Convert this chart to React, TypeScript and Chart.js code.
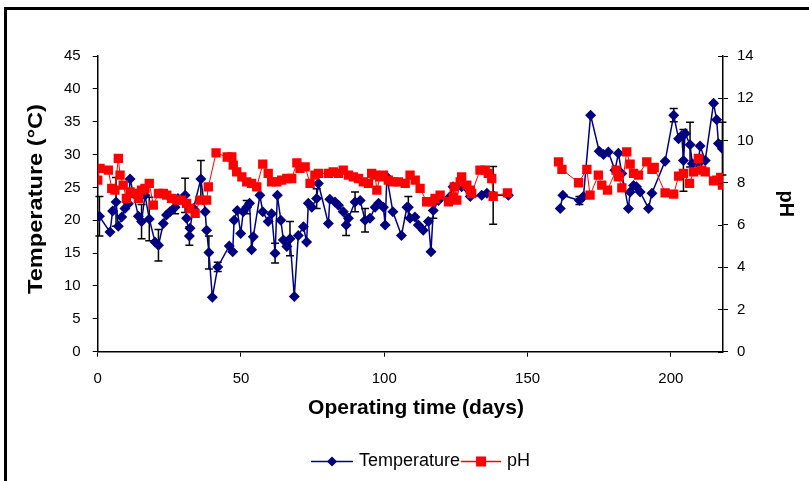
import React, { useEffect, useRef } from "react";
import { Chart, registerables } from "chart.js";

Chart.register(...registerables);

// ---- Data ----
const tempDays = [
  0.6, 4.3, 5.2, 6.4, 7.2, 8.4, 9.5, 10.7, 11.3, 12.4, 14.2, 15.3, 16.5, 18.0, 20.0, 21.2, 22.9, 24.0, 25.2, 27.0,
  28.0, 30.5, 31.0, 32.0, 32.2, 33.4, 36.0, 37.5, 38.0, 38.8, 40.0, 41.9, 45.9, 47.1, 47.6, 48.7, 49.9, 50.8, 52.0, 53.0,
  53.7, 54.3, 56.6, 57.6, 59.5, 60.7, 61.9, 62.7, 63.9, 64.8, 66.0, 67.1, 68.6, 70.0, 71.8, 72.9, 73.5, 74.7, 76.4, 77.0,
  80.5, 81.0, 82.8, 84.0, 85.7, 86.7, 87.5, 89.8, 91.6, 93.3, 95.0, 96.8, 98.0, 99.7, 100.3, 100.9, 103.0, 106.0, 107.9, 108.4,
  109.0, 110.7, 111.9, 113.6, 115.4, 116.3, 117.1, 118.9, 123.0, 124.0, 127.0, 130.0, 134.0, 135.8, 138.0, 143.3,
  161.4, 162.3, 168.1, 169.5, 172.0, 175.0, 176.5, 178.2, 180.5, 181.7, 182.9, 185.2, 185.8, 187.0, 188.0, 189.3, 192.2, 193.4,
  198.0, 201.0, 202.7, 203.8, 204.4, 205.0, 206.7, 207.5, 209.6, 210.2, 212.0, 214.9, 216.0, 216.6, 218.0,
];
const tempValues = [
  20.6, 18.2, 21.4, 22.8, 19.1, 20.5, 21.8, 22.5, 26.3, 24.1, 20.6, 19.8, 23.8, 20.2, 16.7, 16.2, 19.5, 20.8, 21.3, 22.0,
  23.3, 23.8, 20.3, 17.6, 18.8, 21.8, 26.3, 21.3, 18.5, 15.1, 8.3, 12.9, 16.1, 15.2, 20.0, 21.5, 18.0, 21.3, 22.0, 22.6,
  15.5, 17.5, 23.8, 21.3, 19.8, 21.0, 15.0, 23.8, 20.0, 17.0, 16.0, 17.2, 8.4, 17.7, 19.0, 16.7, 22.6, 22.0, 23.3, 25.6,
  19.5, 23.2, 22.8, 22.3, 21.3, 19.3, 20.3, 22.8, 23.0, 20.0, 20.3, 22.0, 22.6, 22.0, 19.3, 26.6, 21.3, 17.7, 22.0, 22.0,
  20.3, 20.5, 19.3, 18.5, 19.8, 15.2, 21.5, 23.0, 23.6, 25.1, 25.1, 23.6, 23.8, 24.1, 23.8, 23.8,
  21.8, 23.8, 23.0, 23.6, 36.0, 30.5, 30.0, 30.4, 27.6, 30.2, 27.1, 21.8, 24.3, 25.3, 25.1, 24.3, 21.8, 24.1,
  29.0, 36.0, 32.4, 32.9, 29.1, 33.2, 31.5, 28.6, 28.6, 31.3, 29.1, 37.8, 35.3, 31.7, 30.9,
];
const tempErrors = [
  3.0, 0, 0, 3.7, 0, 0, 0, 0, 0, 0, 0, 2.6, 0, 3.3, 0, 2.4, 0, 0, 0, 1.0,
  0, 2.6, 0, 1.4, 0, 0, 2.8, 0, 0, 2.5, 0, 0.7, 0, 0, 0, 0, 0, 0, 1.0, 0,
  0, 0, 0, 0, 0, 0, 1.5, 0, 0, 0, 0, 2.6, 0, 0, 0, 0, 0, 0, 1.5, 0,
  0, 0, 0, 0, 0, 1.6, 0, 1.5, 0, 1.8, 0, 0, 0, 0, 0, 0, 0, 0, 0, 1.6,
  0, 0, 0, 0, 0, 0, 1.2, 0, 0, 0, 0, 0, 0, 0, 4.4, 0,
  0, 0, 0.6, 0, 0, 0, 0, 0, 0, 0, 0, 0, 0, 0, 0, 0, 0, 0,
  0, 1.0, 0, 0, 4.7, 0, 3.4, 0, 0, 0, 0, 0, 0, 0, 4.0,
];

const phDays = [
  0, 0.8, 3.7, 4.9, 6.0, 7.2, 7.8, 8.9, 10.0, 11.3, 13.0, 14.2, 15.3, 16.5, 18.0, 19.4, 21.2, 22.9, 24.1, 25.8,
  27.6, 29.3, 31.0, 32.2, 34.0, 35.7, 38.0, 38.6, 41.3, 45.2, 46.8, 47.3, 48.5, 50.3, 52.0, 53.7, 55.5, 57.6, 59.5, 60.7,
  62.5, 64.2, 66.0, 67.7, 69.5, 70.6, 72.4, 74.1, 75.8, 77.0, 80.5, 82.2, 84.0, 85.7, 87.5, 89.2, 91.0, 92.7, 94.5, 95.6,
  96.8, 97.4, 98.5, 99.7, 101.4, 103.2, 104.9, 107.3, 109.0, 110.8, 112.5, 114.8, 116.6, 117.7, 119.5, 122.4, 124.1, 124.4, 125.3, 126.5,
  127.0, 128.8, 130.0, 130.5, 133.4, 135.2, 136.3, 137.5, 138.0, 143.0,
  160.8, 162.0, 167.8, 170.7, 171.8, 174.7, 175.9, 177.9, 180.9, 181.7, 182.9, 184.6, 185.8, 187.0, 188.7, 191.6, 193.4, 194.2,
  198.0, 201.0, 202.7, 204.4, 206.5, 207.9, 209.6, 210.8, 212.0, 214.9, 216.0, 217.4, 218.0,
];
const phValues = [
  8.12, 8.68, 8.6, 7.73, 7.65, 9.15, 8.36, 7.89, 7.26, 7.57, 7.49, 7.26, 7.65, 7.73, 7.97, 6.94, 7.49, 7.49, 7.41, 7.26,
  7.18, 7.18, 7.02, 6.78, 6.55, 7.18, 7.18, 7.8, 9.41, 9.22, 9.22, 8.83, 8.51, 8.28, 8.04, 7.97, 7.8, 8.88, 8.44, 8.04,
  8.04, 8.12, 8.2, 8.2, 8.94, 8.68, 8.75, 7.97, 8.36, 8.44, 8.44, 8.51, 8.44, 8.6, 8.36, 8.28, 8.2, 8.04, 7.97, 8.44,
  8.36, 7.65, 8.28, 8.36, 8.12, 8.04, 8.04, 7.97, 8.36, 8.12, 7.73, 7.1, 7.1, 7.26, 7.41, 7.1, 7.33, 7.8, 7.18, 8.04,
  8.28, 7.89, 7.65, 7.49, 8.6, 8.6, 8.44, 8.2, 7.36, 7.52,
  8.99, 8.63, 8.0, 8.63, 7.41, 8.36, 7.89, 7.65, 8.6, 8.28, 7.76, 9.46, 8.88, 8.44, 8.36, 8.99, 8.63, 8.72,
  7.52, 7.46, 8.31, 8.44, 7.97, 8.51, 9.15, 8.6, 8.51, 8.09, 8.12, 8.25, 7.89,
];

const gapDay = 150; // no measurements between the two campaigns
const xTickValues = [0, 50, 100, 150, 200];
const xMax = 218.2;
const tempMax = 45;
const tempStep = 5;
const phMax = 14;
const phStep = 2;

const FONT = "'Liberation Sans', Arial, sans-serif";
const NAVY = "#000080";
const RED = "#FF0000";

function withGap(days: number[], vals: number[]) {
  const out: { x: number; y: number | null }[] = [];
  days.forEach((d, i) => {
    if (i > 0 && days[i - 1] < gapDay && d > gapDay) out.push({ x: gapDay, y: null });
    out.push({ x: d, y: vals[i] });
  });
  return out;
}

const frameAndExtras = {
  id: "frameAndExtras",
  beforeDatasetsDraw(chart: any) {
    const { ctx } = chart;
    const xs = chart.scales.x;
    const ys = chart.scales.y;
    ctx.save();
    ctx.strokeStyle = "#000";
    ctx.lineWidth = 1.5;
    tempDays.forEach((d, i) => {
      const e = tempErrors[i];
      if (!e) return;
      const px = xs.getPixelForValue(d);
      const top = ys.getPixelForValue(tempValues[i] + e);
      const bot = ys.getPixelForValue(tempValues[i] - e);
      ctx.beginPath();
      ctx.moveTo(px, top);
      ctx.lineTo(px, bot);
      ctx.moveTo(px - 4, top);
      ctx.lineTo(px + 4, top);
      ctx.moveTo(px - 4, bot);
      ctx.lineTo(px + 4, bot);
      ctx.stroke();
    });
    ctx.restore();
  },
  afterDraw(chart: any) {
    const { ctx, chartArea } = chart;
    ctx.save();
    // outer frame (partially visible)
    ctx.fillStyle = "#000";
    ctx.fillRect(4, 7, 3, 481);
    ctx.fillRect(4, 7, 809, 3);

    // inward ticks on the right axis
    const y2 = chart.scales.y2;
    ctx.strokeStyle = "#000";
    ctx.lineWidth = 1;
    y2.ticks.forEach((t: any) => {
      const py = Math.round(y2.getPixelForValue(t.value)) + 0.5;
      ctx.beginPath();
      ctx.moveTo(chartArea.right - 5, py);
      ctx.lineTo(chartArea.right, py);
      ctx.stroke();
    });

    // x-axis title
    ctx.fillStyle = "#000";
    ctx.font = `bold 21px ${FONT}`;
    ctx.textAlign = "center";
    ctx.textBaseline = "middle";
    ctx.fillText("Operating time (days)", 416, 408);

    // y-axis title (left)
    ctx.save();
    ctx.translate(36, 199);
    ctx.rotate(-Math.PI / 2);
    ctx.scale(1.18, 1);
    ctx.font = `bold 20px ${FONT}`;
    ctx.fillText("Temperature (°C)", 0, 0);
    ctx.restore();

    // legend
    const ly = 461.5;
    ctx.lineWidth = 1.5;
    ctx.strokeStyle = NAVY;
    ctx.beginPath();
    ctx.moveTo(311, ly);
    ctx.lineTo(353, ly);
    ctx.stroke();
    ctx.fillStyle = NAVY;
    ctx.beginPath();
    ctx.moveTo(332, ly - 5);
    ctx.lineTo(337, ly);
    ctx.lineTo(332, ly + 5);
    ctx.lineTo(327, ly);
    ctx.closePath();
    ctx.fill();
    ctx.font = `18px ${FONT}`;
    ctx.textAlign = "left";
    ctx.fillStyle = "#000";
    ctx.fillText("Temperature", 359, ly);
    const tw = ctx.measureText("Temperature").width;
    const rx = 359 + tw + 1;
    ctx.strokeStyle = RED;
    ctx.beginPath();
    ctx.moveTo(rx, ly);
    ctx.lineTo(rx + 40, ly);
    ctx.stroke();
    ctx.fillStyle = RED;
    ctx.fillRect(rx + 20 - 5, ly - 5, 10, 10);
    ctx.fillStyle = "#000";
    ctx.fillText("pH", rx + 46, ly);
    ctx.restore();
  },
};

export default function App() {
  const ref = useRef<HTMLCanvasElement | null>(null);

  useEffect(() => {
    if (!ref.current) return;
    const tickFont = { family: FONT, size: 15 };
    const chart = new Chart(ref.current, {
      type: "line",
      data: {
        datasets: [
          {
            label: "pH",
            data: withGap(phDays, phValues),
            yAxisID: "y2",
            borderColor: RED,
            backgroundColor: RED,
            borderWidth: 1,
            pointStyle: "rect",
            pointRadius: 6.6,
            pointBorderWidth: 0,
            pointBackgroundColor: RED,
            spanGaps: false,
            tension: 0,
            order: 0,
          },
          {
            label: "Temperature",
            data: withGap(tempDays, tempValues),
            yAxisID: "y",
            borderColor: NAVY,
            backgroundColor: NAVY,
            borderWidth: 1.5,
            pointStyle: "rectRot",
            pointRadius: 5.5,
            pointBorderWidth: 0,
            pointBackgroundColor: NAVY,
            spanGaps: false,
            tension: 0,
            order: 1,
          },
        ],
      },
      options: {
        animation: false,
        responsive: false,
        maintainAspectRatio: false,
        events: [],
        layout: { padding: { top: 56, left: 0, right: 0, bottom: 0 } },
        plugins: { legend: { display: false }, tooltip: { enabled: false } },
        scales: {
          x: {
            type: "linear",
            position: "bottom",
            min: 0,
            max: xMax,
            afterBuildTicks: (s: any) => {
              s.ticks = xTickValues.map((v) => ({ value: v }));
            },
            afterFit: (s: any) => {
              s.height = 481 - 351.7;
            },
            ticks: { font: tickFont, color: "#000", padding: 13, maxRotation: 0, autoSkip: false },
            grid: { drawOnChartArea: false, drawTicks: true, tickLength: 5, color: "#000", lineWidth: 1 },
            border: { color: "#000", width: 1.5 },
          },
          y: {
            type: "linear",
            position: "left",
            min: 0,
            max: tempMax,
            afterFit: (s: any) => {
              s.width = 97.7;
            },
            ticks: { stepSize: tempStep, font: tickFont, color: "#000", padding: 12 },
            grid: { drawOnChartArea: false, drawTicks: true, tickLength: 5, color: "#000", lineWidth: 1 },
            border: { color: "#000", width: 1.5 },
          },
          y2: {
            type: "linear",
            position: "right",
            min: 0,
            max: phMax,
            afterFit: (s: any) => {
              s.width = 809 - 723;
            },
            ticks: { stepSize: phStep, font: tickFont, color: "#000", padding: 9 },
            grid: { drawOnChartArea: false, drawTicks: true, tickLength: 5, color: "#000", lineWidth: 1 },
            border: { color: "#000", width: 1.5 },
            title: {
              display: true,
              text: "pH",
              color: "#000",
              font: { family: FONT, size: 20, weight: "bold" },
              padding: { top: 11, bottom: 0 },
            },
          },
        },
      },
      plugins: [frameAndExtras],
    } as any);
    return () => chart.destroy();
  }, []);

  return (
    <div style={{ position: "absolute", left: 0, top: 0, width: 809, height: 481, background: "#fff" }}>
      <canvas ref={ref} width={809} height={481} style={{ width: 809, height: 481, display: "block" }} />
    </div>
  );
}
